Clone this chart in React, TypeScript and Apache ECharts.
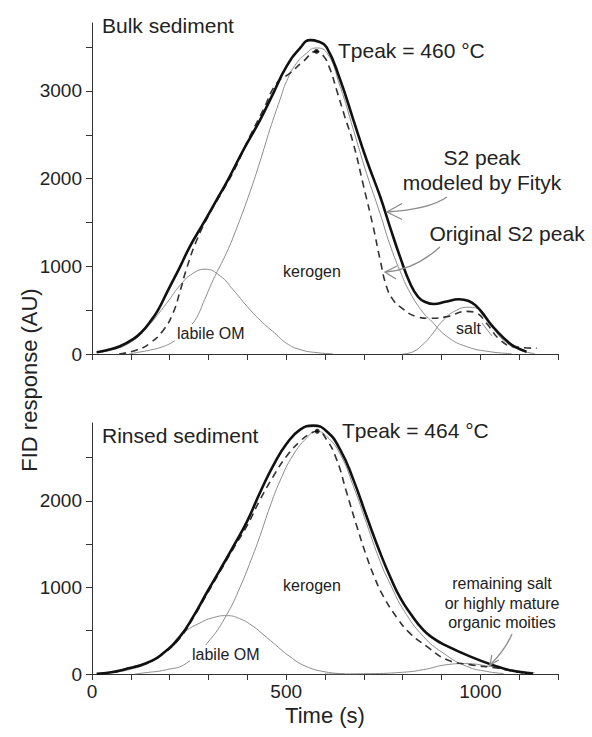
import React, { useEffect, useRef } from "react";
import * as echarts from "echarts";

// ---------- axis ticks / labels ----------
const xTickValues = [0, 100, 200, 300, 400, 500, 600, 700, 800, 900, 1000, 1100, 1200];
const xLabelValues = [0, 500, 1000];
const yTopTicks = [0, 500, 1000, 1500, 2000, 2500, 3000, 3500];
const yTopLabels = [0, 1000, 2000, 3000];
const yBottomTicks = [0, 500, 1000, 1500, 2000, 2500];
const yBottomLabels = [0, 1000, 2000];

// ---------- Bulk sediment (top) ----------
const bulkModel: number[][] = [
  [12, 20], [40, 45], [72, 88], [106, 170], [130, 260], [150, 370], [170, 500], [195, 720],
  [227, 997], [252, 1225], [287, 1492], [321, 1758], [347, 1960], [390, 2329], [433, 2671],
  [467, 2976], [501, 3280], [536, 3490], [562, 3580], [582, 3565], [604, 3500], [639, 3128],
  [673, 2671], [707, 2215], [742, 1796], [767, 1453], [793, 1111], [819, 807], [840, 650],
  [860, 590], [880, 570], [910, 595], [945, 625], [970, 605], [991, 540], [1010, 440],
  [1025, 350], [1045, 250], [1068, 150], [1090, 80], [1119, 26],
];
const bulkOriginal: number[][] = [
  [70, 0], [115, 46], [149, 122], [184, 274], [209, 470], [227, 720], [244, 980], [270, 1300],
  [304, 1610], [338, 1872], [370, 2130], [398, 2405], [441, 2785], [476, 3090], [510, 3204],
  [544, 3337], [578, 3451], [596, 3400], [612, 3260], [630, 3010], [650, 2720], [673, 2400],
  [699, 1920], [724, 1453], [742, 1073], [759, 760], [775, 620], [793, 540], [836, 426],
  [871, 407], [914, 426], [965, 486], [991, 464], [1016, 350], [1051, 160], [1085, 84],
  [1145, 65],
];
const bulkLabile: number[][] = [
  [12, 18], [50, 45], [100, 135], [141, 300], [192, 578], [230, 800], [260, 920], [291, 967],
  [330, 890], [364, 730], [400, 540], [433, 385], [470, 240], [501, 122], [536, 50], [580, 15],
  [620, 3],
];
const bulkKerogen: number[][] = [
  [95, 0], [120, 20], [150, 45], [180, 80], [209, 140], [235, 230], [252, 312], [270, 420],
  [290, 620], [312, 845], [347, 1160], [373, 1440], [407, 1850], [433, 2200], [458, 2560],
  [484, 2900], [501, 3110], [527, 3318], [553, 3432], [575, 3490], [604, 3440], [639, 3050],
  [673, 2560], [707, 2060], [742, 1600], [767, 1250], [793, 950], [819, 700], [853, 470],
  [871, 390], [914, 200], [965, 84], [1025, 26], [1080, 5],
];
const bulkSalt: number[][] = [
  [800, 0], [827, 26], [850, 100], [871, 198], [905, 388], [940, 502], [970, 533], [999, 502],
  [1025, 350], [1059, 160], [1102, 46], [1140, 5],
];
const bulkPeak: number[][] = [[578, 3451]];

// ---------- Rinsed sediment (bottom) ----------
const rinsedModel: number[][] = [
  [12, 3], [50, 20], [81, 50], [141, 127], [184, 243], [227, 435], [261, 666], [295, 936],
  [330, 1206], [364, 1475], [400, 1770], [433, 2100], [467, 2410], [501, 2660], [536, 2824],
  [570, 2870], [604, 2805], [639, 2593], [673, 2246], [707, 1822], [742, 1400], [770, 1100],
  [795, 870], [819, 705], [853, 510], [880, 410], [904, 345], [973, 204], [1042, 88],
  [1080, 40], [1119, 12], [1136, 5],
];
const rinsedOriginal: number[][] = [
  [20, 3], [60, 25], [98, 75], [141, 125], [184, 235], [227, 420], [261, 650], [295, 915],
  [330, 1185], [364, 1450], [400, 1720], [433, 2015], [467, 2285], [501, 2516], [536, 2689],
  [565, 2786], [580, 2805], [604, 2709], [630, 2477], [656, 2093], [682, 1706], [707, 1360],
  [729, 1100], [750, 900], [787, 640], [819, 470], [862, 319], [914, 165], [973, 108],
  [1042, 69], [1085, 30], [1120, 10],
];
const rinsedLabile: number[][] = [
  [12, 3], [50, 18], [100, 55], [150, 140], [192, 281], [235, 474], [278, 590], [315, 655],
  [347, 674], [380, 640], [415, 551], [440, 460], [467, 358], [510, 200], [550, 90], [600, 25],
  [650, 3],
];
const rinsedKerogen: number[][] = [
  [110, 0], [132, 12], [192, 50], [244, 127], [304, 397], [347, 686], [381, 1000], [415, 1380],
  [433, 1600], [458, 1930], [484, 2230], [518, 2530], [553, 2728], [578, 2805], [604, 2747],
  [639, 2540], [673, 2170], [707, 1740], [742, 1300], [770, 1020], [802, 743], [853, 435],
  [904, 243], [965, 88], [1016, 30], [1060, 5],
];
const rinsedRemaining: number[][] = [
  [600, 0], [700, 3], [800, 20], [853, 50], [914, 108], [960, 120], [1025, 88], [1070, 55],
  [1111, 30], [1140, 15],
];
const rinsedPeak: number[][] = [[580, 2805]];

const FONT = "'Liberation Sans', Arial, Helvetica, sans-serif";
const AXIS = "#333";
const TXT = "#222";
const GRAY = "#8c8c8c";
const SMOOTH = 0.5;

function thin(data: number[][], idx: number) {
  return {
    type: "line", xAxisIndex: idx, yAxisIndex: idx, data, showSymbol: false,
    smooth: SMOOTH, silent: true, z: 2,
    lineStyle: { color: GRAY, width: 1 },
  };
}
function dashed(data: number[][], idx: number) {
  return {
    type: "line", xAxisIndex: idx, yAxisIndex: idx, data, showSymbol: false,
    smooth: SMOOTH, silent: true, z: 3,
    lineStyle: { color: "#333", width: 1.6, type: [7, 5] },
  };
}
function thick(data: number[][], idx: number) {
  return {
    type: "line", xAxisIndex: idx, yAxisIndex: idx, data, showSymbol: false,
    smooth: SMOOTH, silent: true, z: 4,
    lineStyle: { color: "#111", width: 2.6 },
  };
}
function peak(data: number[][], idx: number) {
  return {
    type: "scatter", xAxisIndex: idx, yAxisIndex: idx, data, symbolSize: 5, z: 5,
    itemStyle: { color: "#000" }, silent: true,
  };
}

const plain = (v: number) => String(v);

function xAxis(idx: number, labels: boolean) {
  return {
    type: "value", gridIndex: idx, min: 0, max: 1200,
    axisLine: { show: true, onZero: false, lineStyle: { color: AXIS, width: 1 } },
    axisTick: { show: true, inside: false, length: 6, customValues: xTickValues, lineStyle: { color: AXIS } },
    axisLabel: labels
      ? { show: true, customValues: xLabelValues, formatter: plain, fontSize: 19, color: TXT, fontFamily: FONT, margin: 8 }
      : { show: false },
    splitLine: { show: false },
    name: labels ? "Time (s)" : "",
    nameLocation: "middle",
    nameGap: 30,
    nameTextStyle: { fontSize: 22, color: TXT, fontFamily: FONT },
  };
}
function yAxis(idx: number, max: number, ticks: number[], labels: number[]) {
  return {
    type: "value", gridIndex: idx, min: 0, max,
    axisLine: { show: true, onZero: false, lineStyle: { color: AXIS, width: 1 } },
    axisTick: { show: true, inside: false, length: 6, customValues: ticks, lineStyle: { color: AXIS } },
    axisLabel: { show: true, customValues: labels, formatter: plain, fontSize: 19, color: TXT, fontFamily: FONT, margin: 10 },
    splitLine: { show: false },
  };
}

function label(text: string, x: number, y: number, fontSize: number, align = "left", bg = false) {
  return {
    type: "text", x, y, z: 100,
    style: {
      text, fontSize, fontFamily: FONT, fill: TXT, align, verticalAlign: "middle",
      ...(bg ? { backgroundColor: "#fff", padding: [1, 2] } : {}),
    },
  };
}

function arrow(p0: number[], c: number[], p1: number[], b1: number[], b2: number[]) {
  return [
    {
      type: "bezierCurve", z: 90,
      shape: { x1: p0[0], y1: p0[1], cpx1: c[0], cpy1: c[1], x2: p1[0], y2: p1[1] },
      style: { stroke: GRAY, lineWidth: 1.3, fill: null },
    },
    {
      type: "polyline", z: 90,
      shape: { points: [b1, p1, b2] },
      style: { stroke: GRAY, lineWidth: 1.3, fill: null },
    },
  ];
}

export default function App() {
  const ref = useRef<HTMLDivElement>(null);
  useEffect(() => {
    if (!ref.current) return;
    const chart = echarts.init(ref.current, null, { renderer: "svg" });
    const option: any = {
      animation: false,
      backgroundColor: "#fff",
      textStyle: { fontFamily: FONT },
      grid: [
        { left: 92, top: 23, width: 466, height: 331 },
        { left: 92, top: 423, width: 466, height: 251 },
      ],
      xAxis: [xAxis(0, false), xAxis(1, true)],
      yAxis: [
        yAxis(0, 3775, yTopTicks, yTopLabels),
        yAxis(1, 2900, yBottomTicks, yBottomLabels),
      ],
      series: [
        thin(bulkLabile, 0), thin(bulkKerogen, 0), thin(bulkSalt, 0),
        dashed(bulkOriginal, 0), thick(bulkModel, 0), peak(bulkPeak, 0),
        thin(rinsedLabile, 1), thin(rinsedKerogen, 1), thin(rinsedRemaining, 1),
        dashed(rinsedOriginal, 1), thick(rinsedModel, 1), peak(rinsedPeak, 1),
      ],
      graphic: [
        {
          type: "text", x: 29, y: 380, rotation: Math.PI / 2, z: 100,
          style: { text: "FID response (AU)", fontSize: 22, fontFamily: FONT, fill: TXT, align: "center", verticalAlign: "middle" },
        },
        label("Bulk sediment", 102, 25, 21),
        label("Tpeak = 460 °C", 338, 50, 21),
        label("S2 peak", 482, 157, 21, "center"),
        label("modeled by Fityk", 482, 182, 21, "center"),
        label("Original S2 peak", 507, 233, 21, "center"),
        label("kerogen", 283, 271, 16),
        label("labile OM", 175, 333, 16, "left", true),
        label("salt", 456, 328, 16),
        {
          type: "line", z: 90, shape: { x1: 482, y1: 323, x2: 492, y2: 336 },
          style: { stroke: GRAY, lineWidth: 1 },
        },
        ...arrow([447, 197], [429, 209.5], [387, 212], [402, 203.5], [402, 219.5]),
        ...arrow([440, 247], [413.5, 270.5], [385, 272], [397, 266], [396, 279]),
        label("Rinsed sediment", 102, 435, 21),
        label("Tpeak = 464 °C", 342, 430, 21),
        label("kerogen", 283, 585, 16),
        label("labile OM", 190, 654, 16, "left", true),
        label("remaining salt", 502, 583, 16, "center"),
        label("or highly mature", 502, 603, 16, "center"),
        label("organic moities", 502, 622, 16, "center"),
        ...arrow([512, 634], [505, 650.5], [490, 665], [491.8, 655.2], [498.7, 660]),
      ],
    };
    chart.setOption(option);
    return () => chart.dispose();
  }, []);
  return (
    <div
      ref={ref}
      style={{ position: "fixed", left: 0, top: 0, width: 592, height: 737, background: "#fff" }}
    />
  );
}
